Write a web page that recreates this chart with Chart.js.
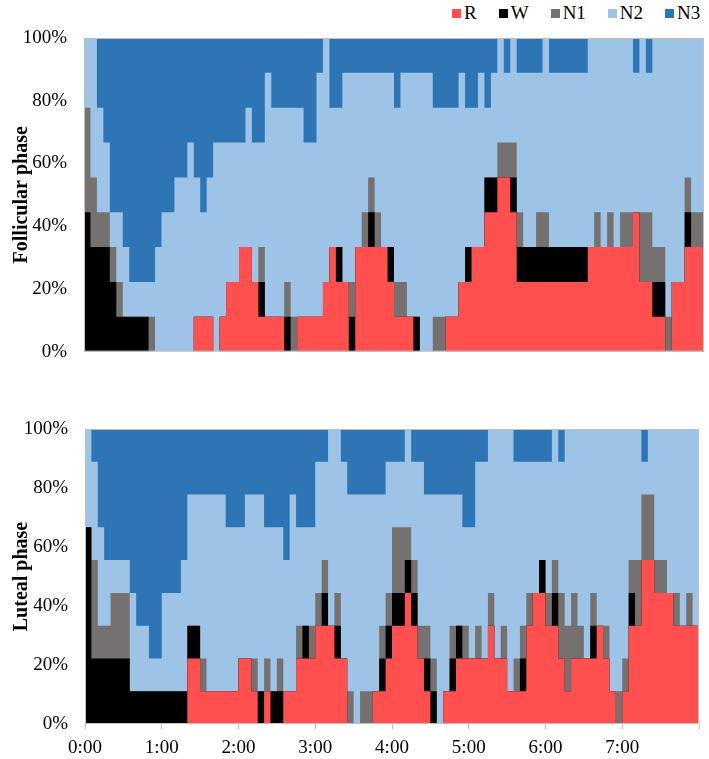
<!DOCTYPE html>
<html>
<head>
<meta charset="utf-8">
<script src="https://cdn.jsdelivr.net/npm/chart.js@4/dist/chart.umd.min.js"></script>
<style>
  html, body { margin: 0; padding: 0; background: #fff; }
  #wrap { position: relative; width: 709px; height: 759px; font-family: 'Liberation Serif', 'Times New Roman', serif; }
  #topBox { position: absolute; left: 0; top: 0; }
  #botBox { position: absolute; left: 0; top: 385px; }
  #legend { position: absolute; top: 2px; left: 452px; display: flex; font-size: 19px; line-height: 22px; color: #000; }
  #legend .item { display: flex; align-items: center; margin-right: 22px; }
  #legend .item:last-child { margin-right: 0; }
  #legend .sw { width: 9px; height: 9px; margin-right: 3px; }
</style>
</head>
<body>
<div id="wrap">
  <div id="legend"></div>
  <div id="topBox"><canvas id="follicularChart" width="709" height="372"></canvas></div>
  <div id="botBox"><canvas id="lutealChart" width="709" height="374"></canvas></div>
</div>
<script>
// 9 subjects, 5-minute slots from 0:00 to 8:00; values = number of subjects in each stage
const subjects = 9;
const stageNames = ["R", "W", "N1", "N2", "N3"];
const stageColors = ["#ff4f4f", "#000000", "#767171", "#9dc3e6", "#2e75b6"];
const hourLabels = ["0:00", "1:00", "2:00", "3:00", "4:00", "5:00", "6:00", "7:00"];

const timeMin = [
  0, 5, 10, 15, 20, 25, 30, 35, 40, 45, 50, 55,
  60, 65, 70, 75, 80, 85, 90, 95, 100, 105, 110, 115,
  120, 125, 130, 135, 140, 145, 150, 155, 160, 165, 170, 175,
  180, 185, 190, 195, 200, 205, 210, 215, 220, 225, 230, 235,
  240, 245, 250, 255, 260, 265, 270, 275, 280, 285, 290, 295,
  300, 305, 310, 315, 320, 325, 330, 335, 340, 345, 350, 355,
  360, 365, 370, 375, 380, 385, 390, 395, 400, 405, 410, 415,
  420, 425, 430, 435, 440, 445, 450, 455, 460, 465, 470, 475,
  480
];

// Follicular phase
const follR = [
  0,0,0,0,0,0,0,0,0,0,0,0, 0,0,0,0,0,1,1,1,0,1,2,2,
  3,3,2,1,1,1,1,0,0,1,1,1, 1,2,3,2,2,0,3,3,3,3,3,2,
  1,1,1,0,0,0,0,0,1,1,2,2, 3,3,4,4,5,5,4,2,2,2,2,2,
  2,2,2,2,2,2,3,3,3,3,3,3, 3,4,2,2,1,1,0,2,2,3,3,3,
  3
];
const follW = [
  4,3,3,3,2,1,1,1,1,1,0,0, 0,0,0,0,0,0,0,0,0,0,0,0,
  0,0,0,1,0,0,0,1,0,0,0,0, 0,0,0,1,0,1,0,0,1,0,0,1,
  0,0,0,1,0,0,0,0,0,0,0,1, 0,0,1,1,0,0,1,1,1,1,1,1,
  1,1,1,1,1,1,0,0,0,0,0,0, 0,0,0,0,1,1,0,0,0,1,0,0,
  0
];
const follN1 = [
  3,2,1,1,1,1,0,0,0,0,1,0, 0,0,0,0,0,0,0,0,0,0,0,0,
  0,0,0,1,0,0,0,1,1,0,0,0, 0,0,0,0,0,1,0,1,1,1,0,0,
  1,1,0,0,0,0,1,1,0,0,0,0, 0,0,0,0,1,1,1,1,0,0,1,1,
  0,0,0,0,0,0,0,1,0,1,0,1, 1,0,2,2,1,1,1,0,0,1,1,1,
  1
];
const follN2 = [
  2,4,3,2,1,2,2,1,1,1,1,3, 4,4,5,5,6,4,3,4,6,5,4,4,
  3,4,4,3,7,6,6,5,6,6,5,5, 7,7,4,4,6,6,5,4,3,4,5,5,
  5,6,7,7,8,8,6,6,6,6,6,4, 4,5,2,3,3,2,3,4,5,5,4,5,
  5,5,5,5,5,5,6,5,6,5,6,5, 5,4,5,4,6,6,8,7,7,4,5,5,
  5
];
const follN3 = [
  0,0,2,3,5,5,6,7,7,7,7,6, 5,5,4,4,3,4,5,4,3,3,3,3,
  3,2,3,3,1,2,2,2,2,2,3,3, 1,0,2,2,1,1,1,1,1,1,1,1,
  2,1,1,1,1,1,2,2,2,2,1,2, 2,1,2,1,0,1,0,1,1,1,1,0,
  1,1,1,1,1,1,0,0,0,0,0,0, 0,1,0,1,0,0,0,0,0,0,0,0,
  0
];

// Luteal phase
const lutR = [
  0,0,0,0,0,0,0,0,0,0,0,0, 0,0,0,0,2,2,1,1,1,1,1,1,
  2,2,1,0,1,0,0,1,1,2,2,2, 3,3,3,2,2,0,0,0,0,1,1,2,
  3,3,4,3,2,1,0,0,1,1,2,2, 2,2,2,3,2,2,1,1,1,3,4,4,
  3,3,2,1,2,2,2,2,3,2,1,0, 1,3,3,5,5,4,4,4,3,3,3,3,
  4
];
const lutW = [
  6,2,2,2,2,2,2,1,1,1,1,1, 1,1,1,1,1,1,0,0,0,0,0,0,
  0,0,0,1,0,1,1,0,0,0,1,0, 0,1,0,1,0,0,0,0,0,0,1,1,
  1,1,1,1,0,1,1,0,0,1,1,0, 0,0,0,0,0,0,0,0,1,0,0,1,
  0,1,0,0,0,0,0,1,0,0,0,0, 0,1,0,0,0,0,0,0,0,0,0,0,
  0
];
const lutN1 = [
  0,3,1,1,2,2,2,0,0,0,0,0, 0,0,0,0,0,0,1,0,0,0,0,0,
  0,0,1,0,1,0,1,0,0,1,0,1, 1,1,0,1,0,1,0,1,1,0,1,1,
  2,2,1,1,1,1,1,0,0,1,0,1, 0,1,0,1,0,1,0,1,1,1,0,0,
  1,1,2,2,2,1,0,1,0,1,0,1, 1,1,2,2,2,1,1,0,1,0,1,0,
  1
];
const lutN2 = [
  3,3,3,2,1,1,1,3,2,2,1,1, 3,3,3,4,4,4,5,6,6,6,5,5,
  4,5,5,6,4,5,4,4,6,3,3,3, 4,3,6,5,6,6,7,6,6,6,4,4,
  2,2,3,3,5,4,5,7,6,4,4,3, 4,5,6,5,7,6,8,6,5,4,4,3,
  4,4,4,6,5,6,7,5,6,6,8,8, 7,4,4,1,2,4,4,5,5,6,5,6,
  4
];
const lutN3 = [
  0,1,3,4,4,4,4,5,6,6,7,7, 5,5,5,4,2,2,2,2,2,2,3,3,
  3,2,2,2,3,3,3,4,2,3,3,3, 1,1,0,0,1,2,2,2,2,2,2,1,
  1,1,0,1,1,2,2,2,2,2,2,3, 3,1,1,0,0,0,0,1,1,1,1,1,
  1,0,1,0,0,0,0,0,0,0,0,0, 0,0,0,1,0,0,0,0,0,0,0,0,
  0
];

Chart.defaults.font.family = "'Liberation Serif', 'Times New Roman', serif";
Chart.defaults.color = "#000";

const framePlugin = {
  id: "plotFrame",
  afterDatasetsDraw(chart) {
    const { ctx, chartArea: a } = chart;
    ctx.save();
    ctx.strokeStyle = "#bfbfbf";
    ctx.lineWidth = 1;
    ctx.strokeRect(a.left + 0.5, a.top + 0.5, a.right - a.left - 1, a.bottom - a.top - 1);
    ctx.restore();
  },
};

function buildDatasets(series) {
  // every stage filled down to the origin; R is drawn last so it lies on top
  return stageNames.map((name, i) => ({
    label: name,
    data: series[i].map((n, k) => ({ x: timeMin[k], y: (n * 100) / subjects })),
    backgroundColor: stageColors[i],
    borderColor: "transparent",
    borderWidth: 0,
    pointRadius: 0,
    stepped: true,
    fill: "origin",
  }));
}

function yAxis(title, width) {
  return {
    stacked: true,
    min: 0,
    max: 100,
    afterFit: (s) => { s.width = width; },
    grid: { display: false },
    border: { display: false },
    ticks: {
      stepSize: 20,
      padding: 9,
      font: { size: 19 },
      callback: (v) => `${v}%`,
    },
    title: {
      display: true,
      text: title,
      font: { size: 20, weight: "bold" },
      padding: { top: 10, bottom: 0 },
    },
  };
}

function renderLegend() {
  const legendEl = document.getElementById("legend");
  stageNames.forEach((name, i) => {
    const item = document.createElement("span");
    item.className = "item";
    item.innerHTML = `<span class="sw" style="background:${stageColors[i]}"></span>${name}`;
    legendEl.appendChild(item);
  });
}

renderLegend();

new Chart(document.getElementById("follicularChart"), {
  type: "line",
  data: { datasets: buildDatasets([follR, follW, follN1, follN2, follN3]) },
  plugins: [framePlugin],
  options: {
    responsive: false,
    animation: false,
    events: [],
    layout: { padding: { left: 0, right: 5, top: 38, bottom: 3 } },
    scales: {
      x: { type: "linear", min: 0, max: 480, display: false },
      y: yAxis("Follicular phase", 84),
    },
    plugins: {
      tooltip: { enabled: false },
      legend: { display: false },
    },
  },
});

new Chart(document.getElementById("lutealChart"), {
  type: "line",
  data: { datasets: buildDatasets([lutR, lutW, lutN1, lutN2, lutN3]) },
  plugins: [framePlugin],
  options: {
    responsive: false,
    animation: false,
    events: [],
    layout: { padding: { left: 0, right: 10, top: 44, bottom: 0 } },
    scales: {
      x: {
        type: "linear",
        min: 0,
        max: 480,
        afterFit: (s) => { s.height = 35; },
        grid: { display: true, drawOnChartArea: false, tickLength: 5, color: "#bfbfbf" },
        border: { display: false },
        ticks: {
          stepSize: 60,
          padding: 8,
          maxRotation: 0,
          font: { size: 19 },
          callback: (v) => hourLabels[v / 60] || "",
        },
      },
      y: yAxis("Luteal phase", 85),
    },
    plugins: {
      tooltip: { enabled: false },
      legend: { display: false },
    },
  },
});
</script>
</body>
</html>
